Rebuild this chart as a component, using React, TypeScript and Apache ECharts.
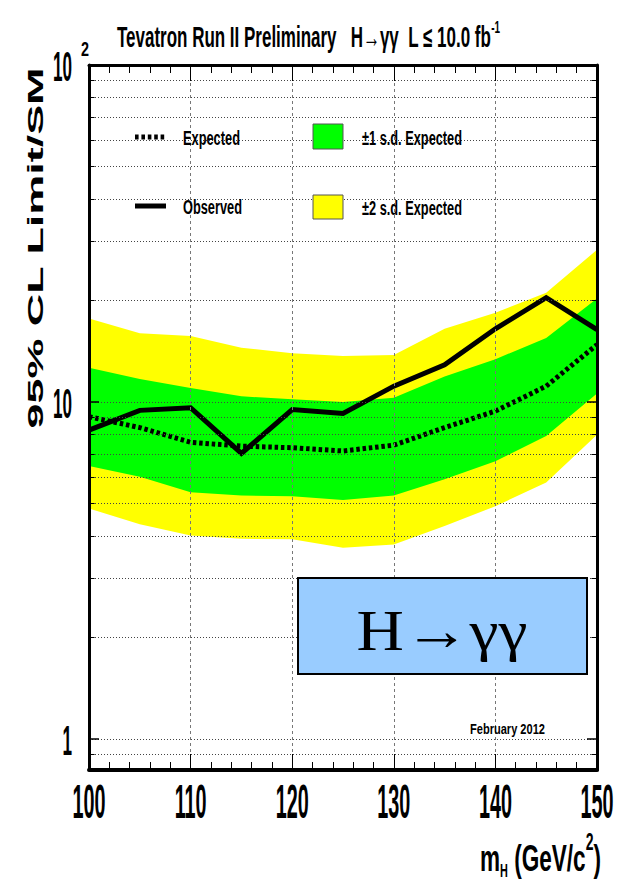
import React, { useEffect, useRef } from 'react';
import * as echarts from 'echarts';

// ---- data ----
const masses = [100, 105, 110, 115, 120, 125, 130, 135, 140, 145, 150];
const observed = [8.26, 9.45, 9.62, 7.04, 9.5, 9.25, 11.15, 12.9, 16.5, 20.4, 16.4];
const expected = [9.05, 8.4, 7.6, 7.4, 7.32, 7.16, 7.45, 8.4, 9.4, 11.15, 14.8];
const plus1 = [12.65, 11.7, 11.0, 10.4, 10.2, 10.0, 10.3, 11.9, 13.4, 15.5, 20.3];
const minus1 = [6.46, 6.0, 5.4, 5.28, 5.26, 5.12, 5.28, 5.9, 6.68, 7.93, 10.6];
const plus2 = [17.7, 16.0, 15.7, 14.5, 13.95, 13.7, 13.8, 16.5, 18.4, 21.1, 28.3];
const minus2 = [4.83, 4.34, 4.02, 3.93, 3.92, 3.7, 3.78, 4.29, 4.91, 5.77, 8.0];

const xTickValues = [100, 110, 120, 130, 140, 150];
const xTickLabels = ['100', '110', '120', '130', '140', '150'];
const yTickValues = [1, 10, 100];
const yTickLabels = ['1', '10', '10'];
const yTickSup = ['', '', '2'];
const yGridValues = [0.9, 1, 2, 3, 4, 5, 6, 7, 8, 9, 10, 20, 30, 40, 50, 60, 70, 80, 90];
const yMinorValues = [0.9, 2, 3, 4, 5, 6, 7, 8, 9, 20, 30, 40, 50, 60, 70, 80, 90];

const FONT = '"Liberation Sans", Arial, Helvetica, sans-serif';
const SERIF = '"Liberation Serif", "DejaVu Serif", "Times New Roman", serif';

let mctx: CanvasRenderingContext2D | null = null;
function measure(text: string, size: number, weight = 'bold', family = FONT) {
  if (!mctx) mctx = document.createElement('canvas').getContext('2d');
  mctx!.font = `${weight} ${size}px ${family}`;
  return mctx!.measureText(text).width;
}

type Piece = { text: string; size: number; dy: number };

function textEl(
  text: string,
  x: number,
  y: number,
  size: number,
  align: string,
  scaleX: number,
  scaleY = 1,
  weight = 'bold',
  family = FONT,
  extra: any = {}
) {
  return {
    type: 'text',
    x,
    y,
    scaleX,
    scaleY,
    silent: true,
    z: 100,
    ...extra,
    style: {
      text,
      font: `${weight} ${size}px ${family}`,
      fill: '#000',
      textAlign: align,
      textVerticalAlign: 'middle',
      align,
      verticalAlign: 'middle',
    },
  };
}

function fitRow(pieces: Piece[], x0: number, x1: number, y: number, sy = 1) {
  const widths = pieces.map((p) => measure(p.text, p.size));
  const total = widths.reduce((a, b) => a + b, 0);
  const s = (x1 - x0) / total;
  let x = x0;
  return pieces.map((p, i) => {
    const el = textEl(p.text, x, y + p.dy, p.size, 'left', s, sy);
    x += widths[i] * s;
    return el;
  });
}

function bandSeries(up: number[], lo: number[], color: string, name: string) {
  return {
    type: 'custom',
    name,
    coordinateSystem: 'cartesian2d',
    xAxisIndex: 0,
    yAxisIndex: 0,
    z: 1,
    silent: true,
    clip: true,
    data: masses.map((m, i) => [m, up[i], lo[i]]),
    encode: { x: 0, y: [1, 2] },
    renderItem: (params: any, api: any) => {
      if (params.dataIndex !== 0) return null;
      const top = masses.map((m, i) => api.coord([m, up[i]]));
      const bot = masses.map((m, i) => api.coord([m, lo[i]])).reverse();
      return {
        type: 'polygon',
        shape: { points: top.concat(bot) },
        style: { fill: color, stroke: 'none' },
      };
    },
  };
}

function buildOption() {
  const xAxisBase = {
    type: 'value',
    min: 100,
    max: 150,
    interval: 10,
    z: 10,
    axisLine: { show: true, onZero: false, lineStyle: { color: '#000', width: 3 } },
    axisTick: { show: true, inside: true, length: 16, lineStyle: { color: '#000', width: 1 } },
    minorTick: { show: true, splitNumber: 5, length: 8, lineStyle: { color: '#000', width: 1 } },
    axisLabel: { show: false },
  };
  const yAxisBase = {
    type: 'log',
    logBase: 10,
    min: 0.81,
    max: 100,
    z: 11,
    axisLine: { show: true, onZero: false, lineStyle: { color: '#000', width: 3 } },
    axisTick: { show: true, inside: true, length: 10, lineStyle: { color: '#000', width: 1.5 } },
    axisLabel: { show: false },
    splitLine: { show: false },
  };
  const minorTickLines: any[] = [];
  yMinorValues.forEach((v) => {
    minorTickLines.push([{ coord: [100, v] }, { coord: [100.55, v] }]);
    minorTickLines.push([{ coord: [149.45, v] }, { coord: [150, v] }]);
  });
  return {
    animation: false,
    backgroundColor: '#fff',
    grid: { left: 89, top: 65, width: 508, height: 705, containLabel: false },
    xAxis: [
      {
        ...xAxisBase,
        position: 'bottom',
        axisLine: { show: true, onZero: false, lineStyle: { color: '#000', width: 4 } },
        splitLine: { show: true, lineStyle: { color: '#777', width: 1, type: [3, 3] } },
      },
      { ...xAxisBase, position: 'top', splitLine: { show: false } },
    ],
    yAxis: [
      { ...yAxisBase, position: 'left' },
      { ...yAxisBase, position: 'right' },
    ],
    series: [
      bandSeries(plus2, minus2, '#ffff00', '±2 s.d. Expected'),
      bandSeries(plus1, minus1, '#00ff00', '±1 s.d. Expected'),
      {
        type: 'line',
        name: 'grid',
        data: [],
        z: 2,
        silent: true,
        markLine: {
          silent: true,
          symbol: ['none', 'none'],
          label: { show: false },
          lineStyle: { color: '#444', width: 1, type: [1, 2] },
          data: yGridValues.map((v) => ({ yAxis: v })),
        },
      },
      {
        type: 'line',
        name: 'ticks',
        data: [],
        z: 12,
        silent: true,
        markLine: {
          silent: true,
          symbol: ['none', 'none'],
          label: { show: false },
          lineStyle: { color: '#000', width: 1, type: 'solid' },
          data: minorTickLines,
        },
      },
      {
        type: 'line',
        name: 'Expected',
        data: masses.map((m, i) => [m, expected[i]]),
        showSymbol: false,
        symbol: 'none',
        z: 3,
        lineStyle: { color: '#000', width: 5, type: [3.5, 2.8], cap: 'butt', join: 'miter' },
      },
      {
        type: 'line',
        name: 'Observed',
        data: masses.map((m, i) => [m, observed[i]]),
        showSymbol: false,
        symbol: 'none',
        z: 4,
        lineStyle: { color: '#000', width: 5, type: 'solid', cap: 'butt', join: 'miter' },
      },
    ],
  };
}

function buildGraphics(chart: any) {
  const els: any[] = [];
  // title
  els.push(
    ...fitRow(
      [
        { text: 'Tevatron Run II Preliminary   H\u2192\u03b3\u03b3  L \u2264 10.0 fb', size: 24, dy: 0 },
        { text: '-1', size: 14, dy: -9 },
      ],
      117,
      500,
      37,
      1.2
    )
  );
  // x tick labels
  const fx = 30;
  const sxx = 33 / measure('100', fx);
  const syx = 34 / (0.716 * fx);
  xTickValues.forEach((v, i) => {
    const px = chart.convertToPixel({ xAxisIndex: 0 }, v);
    els.push(textEl(xTickLabels[i], px, 802, fx, 'center', sxx, syx));
  });
  // y tick labels
  const fy = 24;
  const sxy = 19 / measure('10', fy);
  const syy = 31 / (0.716 * fy);
  yTickValues.forEach((v, i) => {
    const py = chart.convertToPixel({ yAxisIndex: 0 }, v);
    els.push(textEl(yTickLabels[i], 72, py + 1, fy, 'right', sxy, syy));
    if (yTickSup[i]) {
      const f2 = 14;
      const s2 = 8 / measure(yTickSup[i], f2);
      els.push(textEl(yTickSup[i], 81, py - 16, f2, 'left', s2, 15 / (0.716 * f2)));
    }
  });
  // x axis title
  els.push(
    ...fitRow(
      [
        { text: 'm', size: 29, dy: 0 },
        { text: 'H', size: 14, dy: 12 },
        { text: ' (GeV/c', size: 29, dy: 0 },
        { text: '2', size: 18, dy: -16 },
        { text: ')', size: 29, dy: 0 },
      ],
      480,
      601,
      858,
      1.3
    )
  );
  // y axis title
  const yt = '95% CL Limit/SM';
  const syt = 362 / measure(yt, 22);
  els.push(textEl(yt, 35.5, 248, 22, 'center', syt, 1, 'bold', FONT, { rotation: Math.PI / 2 }));

  // legend
  els.push({
    type: 'line',
    silent: true,
    z: 100,
    shape: { x1: 135, y1: 137, x2: 166, y2: 137 },
    style: { stroke: '#000', lineWidth: 5, lineDash: [3.6, 2.8], lineCap: 'butt' },
  });
  els.push({
    type: 'line',
    silent: true,
    z: 100,
    shape: { x1: 135, y1: 206, x2: 166, y2: 206 },
    style: { stroke: '#000', lineWidth: 5, lineCap: 'butt' },
  });
  els.push({
    type: 'rect',
    silent: true,
    z: 100,
    shape: { x: 313, y: 124, width: 30, height: 25 },
    style: { fill: '#00ff00', stroke: '#555', lineWidth: 1 },
  });
  els.push({
    type: 'rect',
    silent: true,
    z: 100,
    shape: { x: 313, y: 195, width: 30, height: 24 },
    style: { fill: '#ffff00', stroke: '#555', lineWidth: 1 },
  });
  els.push(...fitRow([{ text: 'Expected', size: 18, dy: 0 }], 183, 240, 138, 1.17));
  els.push(...fitRow([{ text: 'Observed', size: 18, dy: 0 }], 183, 242, 207, 1.17));
  els.push(...fitRow([{ text: '\u00b11 s.d. Expected', size: 18, dy: 0 }], 362, 462, 138, 1.17));
  els.push(...fitRow([{ text: '\u00b12 s.d. Expected', size: 18, dy: 0 }], 362, 462, 208, 1.17));

  // date
  els.push(...fitRow([{ text: 'February 2012', size: 13, dy: 0 }], 470, 545, 729, 1.1));

  // H->gamma gamma box
  els.push({
    type: 'rect',
    silent: true,
    z: 100,
    shape: { x: 298, y: 578, width: 289, height: 96 },
    style: { fill: '#99ccff', stroke: '#000', lineWidth: 2 },
  });
  const hg = 'H\u2192\u03b3\u03b3';
  const shg = 171 / measure(hg, 58, 'normal', SERIF);
  els.push(textEl(hg, 442, 630, 58, 'center', shg, 1, 'normal', SERIF, { z: 101 }));
  return els;
}

export default function App() {
  const ref = useRef<HTMLDivElement>(null);
  useEffect(() => {
    const chart = echarts.init(ref.current!, null, { renderer: 'svg' });
    chart.setOption(buildOption() as any);
    chart.setOption({ graphic: buildGraphics(chart) } as any);
    return () => chart.dispose();
  }, []);
  return (
    <div
      ref={ref}
      style={{ position: 'fixed', left: 0, top: 0, width: 617, height: 883, background: '#fff' }}
    />
  );
}
